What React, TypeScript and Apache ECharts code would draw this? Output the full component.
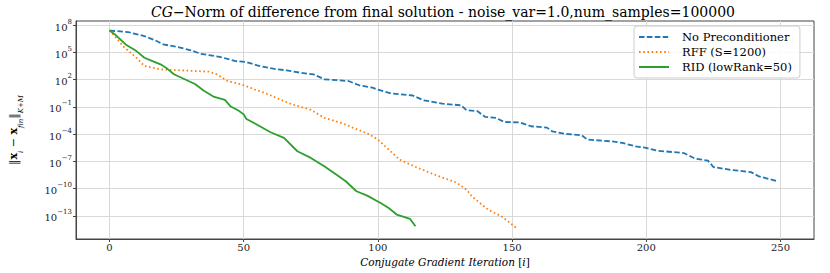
import React, { useEffect, useRef } from "react";
import * as echarts from "echarts";

// ---- data ----
const xTickValues = [0, 50, 100, 150, 200, 250];
const yTickExponents = [-13, -10, -7, -4, -1, 2, 5, 8];

const seriesNames = ["No Preconditioner", "RFF (S=1200)", "RID (lowRank=50)"];

const noPrecIter = [0, 7, 13, 17, 20, 25, 30, 34, 41, 47, 51, 55, 61, 66, 71, 76, 80, 89, 93, 98, 100, 105, 113, 117, 124, 131, 133, 137, 140, 144, 147, 153, 157, 163, 165, 170, 176, 178, 187, 191, 196, 200, 204, 214, 218, 223, 225, 231, 239, 242, 246, 249];
const noPrecVal = [2.57e7, 1.7e7, 6.2e6, 2.2e6, 7.6e5, 4.2e5, 1.8e5, 7.1e4, 3.3e4, 1.1e4, 8.7e3, 3.7e3, 1.6e3, 1.05e3, 590, 380, 110, 71, 24, 13, 8.1, 3.0, 1.8, 0.54, 0.23, 0.15, 0.043, 0.035, 7.9e-3, 6.2e-3, 2.2e-3, 1.9e-3, 7.4e-4, 5.2e-4, 2.0e-4, 1.05e-4, 7.4e-5, 2.5e-5, 1.6e-5, 1.1e-5, 4.6e-6, 3.0e-6, 1.5e-6, 8.3e-7, 2.1e-7, 1.2e-7, 2.4e-8, 1.2e-8, 6.6e-9, 2.2e-9, 1.1e-9, 6.2e-10];

const rffIter = [0, 2, 5, 10, 13, 19, 24, 32, 37, 40, 44, 49, 54, 59, 63, 68, 75, 80, 87, 93, 97, 100, 104, 108, 114, 121, 129, 133, 135, 138, 141, 146, 150, 152];
const rffVal = [2.57e7, 6.2e6, 4.9e5, 2.6e4, 3.2e3, 1.35e3, 1.15e3, 890, 760, 380, 71, 31, 8.7, 2.5, 0.76, 0.19, 0.048, 6.3e-3, 1.45e-3, 2.7e-4, 8.9e-5, 2.5e-5, 2.0e-6, 1.6e-7, 2.5e-8, 3.5e-9, 5.0e-10, 7.8e-11, 1.45e-11, 2.6e-12, 4.9e-13, 8.9e-14, 1.1e-14, 3.6e-15];

const ridIter = [0, 2, 6, 10, 13, 16, 19, 21, 24, 28, 32, 35, 39, 43, 45, 48, 50, 51, 55, 60, 65, 70, 75, 80, 85, 88, 92, 96, 101, 104, 107, 112, 114];
const ridVal = [2.57e7, 9.5e6, 7.6e5, 1.4e5, 2.6e4, 1.1e4, 4.9e3, 2.1e3, 390, 110, 31, 6.3, 1.26, 0.59, 0.12, 0.04, 0.015, 4.6e-3, 1.1e-3, 1.6e-4, 3.8e-5, 1.3e-6, 2.4e-7, 2.9e-8, 2.7e-9, 6.5e-10, 5.1e-11, 1.7e-11, 2.6e-12, 7.4e-13, 1.4e-13, 4.6e-14, 7.1e-15];

const FONT = "'DejaVu Serif', 'Liberation Serif', serif";

function pairs(xs: number[], ys: number[]) {
  return xs.map((x, k) => [x, ys[k]]);
}

export default function App() {
  const ref = useRef<HTMLDivElement>(null);
  useEffect(() => {
    const chart = echarts.init(ref.current!, null, { renderer: "svg" });
    const yTicks = yTickExponents.map((e) => Math.pow(10, e));
    const option: any = {
      animation: false,
      backgroundColor: "#ffffff",
      textStyle: { fontFamily: FONT },
      title: {
        text: "{i|CG}{n|−Norm of difference from final solution - noise_var=1.0,num_samples=100000}",
        left: 151,
        top: 5,
        padding: 0,
        textStyle: {
          fontFamily: FONT,
          fontWeight: "normal",
          fontSize: 14,
          rich: {
            i: { fontFamily: FONT, fontStyle: "italic", fontWeight: "normal", fontSize: 14, color: "#000" },
            n: { fontFamily: FONT, fontWeight: "normal", fontSize: 14, color: "#000" },
          },
        },
      },
      legend: {
        orient: "vertical",
        left: 634,
        top: 26,
        padding: [5, 8, 5, 4],
        itemGap: 3,
        itemWidth: 30,
        itemHeight: 10,
        backgroundColor: "rgba(255,255,255,0.85)",
        borderColor: "#cccccc",
        borderWidth: 1,
        borderRadius: 3,
        itemStyle: { opacity: 0 },
        textStyle: { fontFamily: FONT, fontSize: 11.5, lineHeight: 11, color: "#000", padding: [0, 0, 0, 8] },
        data: seriesNames,
      },
      grid: {
        left: 71,
        right: 16,
        top: 21,
        bottom: 34,
        show: true,
        borderColor: "#444",
        borderWidth: 1,
      },
      xAxis: {
        type: "value",
        min: -12.5,
        max: 262.5,
        name: "{i|Conjugate Gradient Iteration }{n|[}{i|i}{n|]}",
        nameLocation: "middle",
        nameGap: 12,
        nameTextStyle: {
          fontFamily: FONT,
          rich: {
            i: { fontFamily: FONT, fontStyle: "italic", fontSize: 10.5, color: "#000" },
            n: { fontFamily: FONT, fontSize: 10.5, color: "#000" },
          },
        },
        axisLine: { show: true, onZero: false, lineStyle: { color: "#444" } },
        axisTick: { show: true, length: 3, customValues: xTickValues, lineStyle: { color: "#444" } },
        axisLabel: { customValues: xTickValues, fontFamily: FONT, fontSize: 10, color: "#222", margin: 3 },
        splitLine: { show: true, lineStyle: { color: "#d9d9d9", width: 1 } },
      },
      yAxis: {
        type: "log",
        logBase: 10,
        min: Math.pow(10, -15.55),
        max: Math.pow(10, 8.46),
        name: "{n|‖}{b|x}{s|i}{n| − }{b|x}{s|fin}{n|‖}{s|K+M}",
        nameLocation: "middle",
        nameGap: 52,
        nameTextStyle: {
          fontFamily: FONT,
          rich: {
            n: { fontFamily: FONT, fontSize: 11, color: "#000", lineHeight: 16, verticalAlign: "top" },
            b: { fontFamily: FONT, fontSize: 11, fontWeight: "bold", color: "#000", lineHeight: 16, verticalAlign: "top" },
            s: { fontFamily: FONT, fontSize: 7, fontStyle: "italic", color: "#000", lineHeight: 8, verticalAlign: "bottom" },
          },
        },
        axisLine: { show: true, onZero: false, lineStyle: { color: "#444" } },
        axisTick: { show: true, length: 3, customValues: yTicks, lineStyle: { color: "#444" } },
        axisLabel: {
          customValues: yTicks,
          margin: 4,
          fontFamily: FONT,
          formatter: (v: number) => {
            const e = Math.round(Math.log10(v));
            const s = e < 0 ? "−" + Math.abs(e) : String(e);
            return "{b|10}{s|" + s + "}";
          },
          rich: {
            b: { fontFamily: FONT, fontSize: 10, color: "#222", lineHeight: 14, verticalAlign: "bottom" },
            s: { fontFamily: FONT, fontSize: 7, color: "#222", lineHeight: 8, verticalAlign: "top" },
          },
        },
        splitLine: { show: true, lineStyle: { color: "#d9d9d9", width: 1 } },
      },
      series: [
        {
          name: seriesNames[0],
          type: "line",
          symbol: "none",
          data: pairs(noPrecIter, noPrecVal),
          lineStyle: { color: "#1f77b4", width: 1.8, type: [5.5, 2.4] },
          itemStyle: { color: "#1f77b4" },
        },
        {
          name: seriesNames[1],
          type: "line",
          symbol: "none",
          data: pairs(rffIter, rffVal),
          lineStyle: { color: "#ff7f0e", width: 1.8, type: [1.6, 2.6] },
          itemStyle: { color: "#ff7f0e" },
        },
        {
          name: seriesNames[2],
          type: "line",
          symbol: "none",
          data: pairs(ridIter, ridVal),
          lineStyle: { color: "#2ca02c", width: 1.8, type: "solid" },
          itemStyle: { color: "#2ca02c" },
        },
      ],
    };
    chart.setOption(option);
    return () => chart.dispose();
  }, []);
  return <div ref={ref} style={{ position: "absolute", left: 0, top: 0, width: 830, height: 273 }} />;
}
